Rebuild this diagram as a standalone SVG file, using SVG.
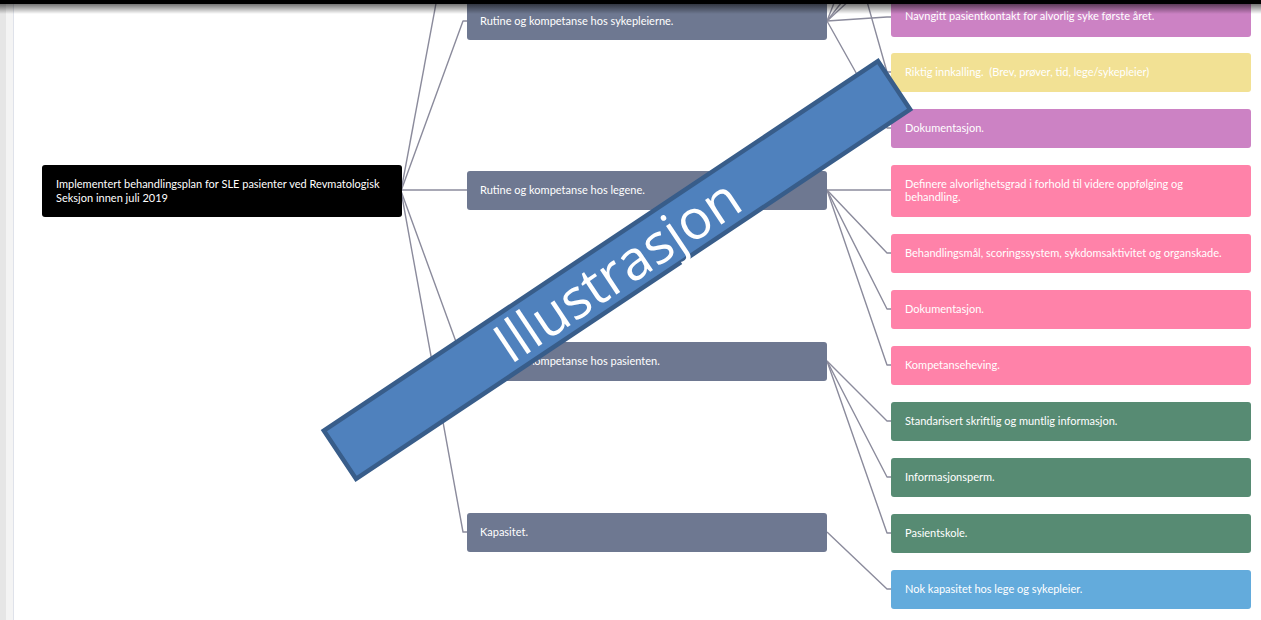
<svg xmlns="http://www.w3.org/2000/svg" width="1261" height="620" viewBox="0 0 1261 620">
  <defs>
    <linearGradient id="topShade" x1="0" y1="0" x2="0" y2="1">
      <stop offset="0" stop-color="#000" stop-opacity="0.55"/>
      <stop offset="1" stop-color="#000" stop-opacity="0"/>
    </linearGradient>
    <style>
      .edge { fill: none; stroke: #8b8b9c; stroke-width: 1.4; stroke-linejoin: round; }
      .root { fill: #000000; }
      .mid { fill: #6e7891; }
      .purple { fill: #cc82c4; }
      .yellow { fill: #f2e194; }
      .pink { fill: #ff82a9; }
      .green { fill: #578b73; }
      .blue { fill: #63abdc; }
      .lbl { font-family: Lato, "Liberation Sans", sans-serif; font-size: 11px; fill: #ffffff; }
      .banner-text { font-family: "Open Sans", "Liberation Sans", sans-serif; font-size: 55px; fill: #ffffff; }
    </style>
  </defs>

  <rect x="0" y="0" width="1261" height="620" fill="#ffffff"/>
  <!-- page margin strip on the left -->
  <rect x="0" y="0" width="6" height="620" fill="#e6e6e6"/>
  <rect x="6" y="0" width="7" height="620" fill="#f4f4f4"/>
  <line x1="13.5" y1="0" x2="13.5" y2="620" stroke="#dfe2ea" stroke-width="1"/>

  <!-- connectors -->
  <g id="connectors">
    <path class="edge" d="M401,191 L437,-2"/>
    <path class="edge" d="M401,191 L463,21 L467,21"/>
    <path class="edge" d="M401,190 L467,190"/>
    <path class="edge" d="M401,191 L463,361 L467,361"/>
    <path class="edge" d="M401,191 L463,532 L467,532"/>

    <path class="edge" d="M827,21 L836,-2"/>
    <path class="edge" d="M827,21 L845,-2"/>
    <path class="edge" d="M827,21 L852,-2"/>
    <path class="edge" d="M827,21 L887,17 L891,17"/>
    <path class="edge" d="M866,-2 L887,72 L891,72"/>
    <path class="edge" d="M827,21 L887,128 L891,128"/>

    <path class="edge" d="M827,190 L891,190"/>
    <path class="edge" d="M827,190 L887,253 L891,253"/>
    <path class="edge" d="M827,190 L887,309 L891,309"/>
    <path class="edge" d="M827,190 L887,365 L891,365"/>

    <path class="edge" d="M827,361 L887,421 L891,421"/>
    <path class="edge" d="M827,361 L887,477 L891,477"/>
    <path class="edge" d="M827,361 L887,533 L891,533"/>

    <path class="edge" d="M827,532 L887,589 L891,589"/>
  </g>

  <!-- root goal -->
  <g id="root">
    <rect class="root" x="42" y="165" width="360" height="52" rx="3"/>
    <text class="lbl" x="56" y="188">Implementert behandlingsplan for SLE pasienter ved Revmatologisk</text>
    <text class="lbl" x="56" y="202">Seksjon innen juli 2019</text>
  </g>

  <!-- main drivers -->
  <g id="driver-nurses">
    <rect class="mid" x="467" y="1" width="360" height="39" rx="3"/>
    <text class="lbl" x="480" y="25">Rutine og kompetanse hos sykepleierne.</text>
  </g>
  <g id="driver-doctors">
    <rect class="mid" x="467" y="171" width="360" height="39" rx="3"/>
    <text class="lbl" x="480" y="194">Rutine og kompetanse hos legene.</text>
  </g>
  <g id="driver-patients">
    <rect class="mid" x="467" y="342" width="360" height="39" rx="3"/>
    <text class="lbl" x="480" y="365">Rutine og kompetanse hos pasienten.</text>
  </g>
  <g id="driver-capacity">
    <rect class="mid" x="467" y="513" width="360" height="39" rx="3"/>
    <text class="lbl" x="480" y="536">Kapasitet.</text>
  </g>

  <!-- secondary drivers -->
  <g id="leaf-contact">
    <rect class="purple" x="891" y="-3" width="360" height="40" rx="3"/>
    <text class="lbl" x="905" y="20">Navngitt pasientkontakt for alvorlig syke første året.</text>
  </g>
  <g id="leaf-invite">
    <rect class="yellow" x="891" y="53" width="360" height="39" rx="3"/>
    <text class="lbl" x="905" y="76" xml:space="preserve">Riktig innkalling.  (Brev, prøver, tid, lege/sykepleier)</text>
  </g>
  <g id="leaf-doc-nurse">
    <rect class="purple" x="891" y="109" width="360" height="39" rx="3"/>
    <text class="lbl" x="905" y="132">Dokumentasjon.</text>
  </g>
  <g id="leaf-severity">
    <rect class="pink" x="891" y="165" width="360" height="52" rx="3"/>
    <text class="lbl" x="905" y="188">Definere alvorlighetsgrad i forhold til videre oppfølging og</text>
    <text class="lbl" x="905" y="201">behandling.</text>
  </g>
  <g id="leaf-goals">
    <rect class="pink" x="891" y="234" width="360" height="39" rx="3"/>
    <text class="lbl" x="905" y="257">Behandlingsmål, scoringssystem, sykdomsaktivitet og organskade.</text>
  </g>
  <g id="leaf-doc-doctor">
    <rect class="pink" x="891" y="290" width="360" height="39" rx="3"/>
    <text class="lbl" x="905" y="313">Dokumentasjon.</text>
  </g>
  <g id="leaf-competence">
    <rect class="pink" x="891" y="346" width="360" height="39" rx="3"/>
    <text class="lbl" x="905" y="369">Kompetanseheving.</text>
  </g>
  <g id="leaf-info">
    <rect class="green" x="891" y="402" width="360" height="39" rx="3"/>
    <text class="lbl" x="905" y="425">Standarisert skriftlig og muntlig informasjon.</text>
  </g>
  <g id="leaf-folder">
    <rect class="green" x="891" y="458" width="360" height="39" rx="3"/>
    <text class="lbl" x="905" y="481">Informasjonsperm.</text>
  </g>
  <g id="leaf-school">
    <rect class="green" x="891" y="514" width="360" height="39" rx="3"/>
    <text class="lbl" x="905" y="537">Pasientskole.</text>
  </g>
  <g id="leaf-capacity">
    <rect class="blue" x="891" y="570" width="360" height="39" rx="3"/>
    <text class="lbl" x="905" y="593">Nok kapasitet hos lege og sykepleier.</text>
  </g>

  <!-- diagonal banner -->
  <g id="banner" transform="translate(617,270) rotate(-33.7)">
    <rect x="-333" y="-29" width="666" height="58" fill="#4f81bd" stroke="#385d8a" stroke-width="4.5"/>
    <text class="banner-text" x="0" y="20" text-anchor="middle">Illustrasjon</text>
  </g>

  <!-- window top edge -->
  <rect x="0" y="0" width="1261" height="4" fill="#000"/>
  <rect x="0" y="4" width="1261" height="10" fill="url(#topShade)"/>
</svg>
